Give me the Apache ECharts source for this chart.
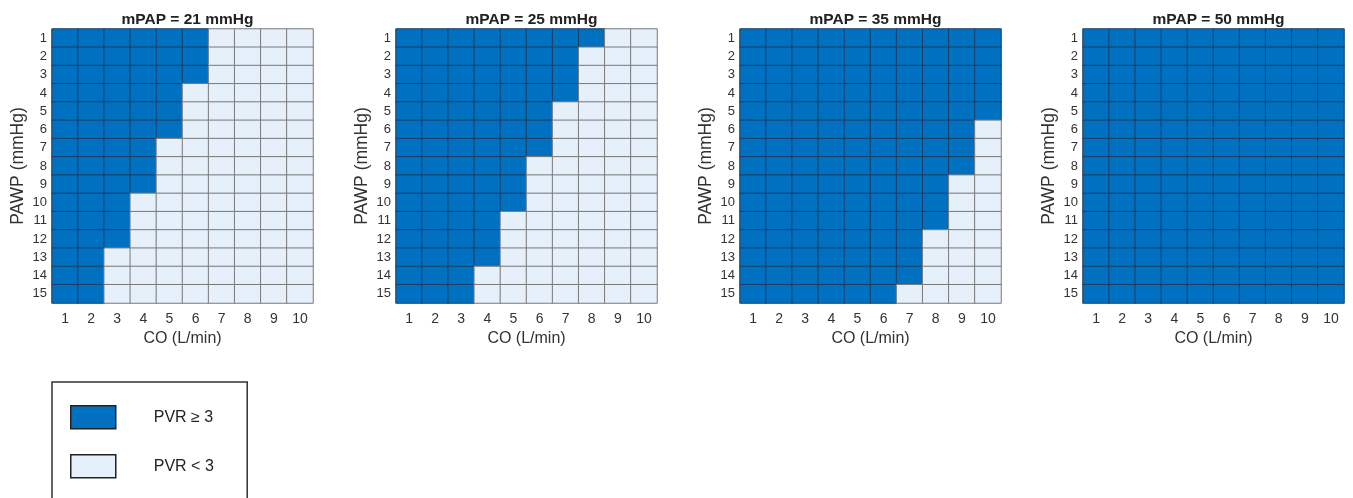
<!DOCTYPE html>
<html>
<head>
<meta charset="utf-8">
<script src="https://cdn.jsdelivr.net/npm/echarts@6/dist/echarts.min.js"></script>
<style>html,body{margin:0;padding:0;background:#fff;}#c{width:1353px;height:498px;}</style>
</head>
<body>
<div id="c"></div>
<script>
// Panel titles (mPAP values)
const panelTitles = ['mPAP = 21 mmHg', 'mPAP = 25 mmHg', 'mPAP = 35 mmHg', 'mPAP = 50 mmHg'];
// CO categories (x) and PAWP categories (y)
const coLabels = ['1','2','3','4','5','6','7','8','9','10'];
const pawpLabels = ['1','2','3','4','5','6','7','8','9','10','11','12','13','14','15'];
// Number of CO columns (from left) with PVR >= 3, for each PAWP row 1..15
const dark21 = [6,6,6,5,5,5,4,4,4,3,3,3,2,2,2];
const dark25 = [8,7,7,7,6,6,6,5,5,5,4,4,4,3,3];
const dark35 = [10,10,10,10,10,9,9,9,8,8,8,7,7,7,6];
const dark50 = [10,10,10,10,10,10,10,10,10,10,10,10,10,10,10];
const darkCounts = [dark21, dark25, dark35, dark50];
const legendNames = ['PVR \u2265 3', 'PVR < 3'];

const DARK = '#0070C0', LIGHT = '#E6F0FA';
const FONT = 'Liberation Sans, Arial, sans-serif';
const lefts = [52, 396, 740, 1083];
const W = 261, TOP = 29, H = 274;

const grids = [], xAxes = [], yAxes = [], titles = [], series = [];
darkCounts.forEach((counts, p) => {
  grids.push({left: lefts[p], top: TOP, width: W, height: H, containLabel: false});
  titles.push({
    text: panelTitles[p], left: lefts[p] + W / 2, top: 7, textAlign: 'center',
    textStyle: {fontFamily: FONT, fontSize: 15.5, fontWeight: 'bold', color: '#222'}
  });
  xAxes.push({
    type: 'category', gridIndex: p, data: coLabels,
    name: 'CO (L/min)', nameLocation: 'middle', nameGap: 28,
    nameTextStyle: {fontFamily: FONT, fontSize: 16, color: '#333'},
    axisLine: {show: false}, axisTick: {show: false}, splitLine: {show: false},
    axisLabel: {fontFamily: FONT, fontSize: 14, color: '#333', margin: 9}
  });
  yAxes.push({
    type: 'category', gridIndex: p, data: pawpLabels, inverse: true,
    name: 'PAWP (mmHg)', nameLocation: 'middle', nameGap: 25, nameRotate: 90,
    nameTextStyle: {fontFamily: FONT, fontSize: 17.5, color: '#333'},
    axisLine: {show: false}, axisTick: {show: false}, splitLine: {show: false},
    axisLabel: {fontFamily: FONT, fontSize: 13, color: '#333', margin: 5}
  });
  const darkData = [], lightData = [];
  counts.forEach((n, r) => {
    for (let c = 0; c < coLabels.length; c++) {
      if (c < n) darkData.push([c, r, 1]); else lightData.push([c, r, 0]);
    }
  });
  series.push({
    type: 'heatmap', name: legendNames[0], xAxisIndex: p, yAxisIndex: p, data: darkData,
    itemStyle: {color: DARK, borderColor: '#1d3f63', borderWidth: 1},
    emphasis: {disabled: true}, label: {show: false}
  });
  series.push({
    type: 'heatmap', name: legendNames[1], xAxisIndex: p, yAxisIndex: p, data: lightData,
    itemStyle: {color: LIGHT, borderColor: '#7a7a7a', borderWidth: 1},
    emphasis: {disabled: true}, label: {show: false}
  });
});

const legendText = {fontFamily: FONT, fontSize: 16, color: '#222', padding: [0, 0, 0, 33]};
const chart = echarts.init(document.getElementById('c'), null, {renderer: 'canvas'});
chart.setOption({
  animation: false,
  backgroundColor: '#fff',
  title: titles,
  grid: grids,
  xAxis: xAxes,
  yAxis: yAxes,
  tooltip: {show: false},
  legend: [
    {
      data: [{name: legendNames[0], itemStyle: {color: DARK, borderColor: '#222', borderWidth: 1.5}}],
      orient: 'vertical', left: 52, top: 382,
      icon: 'rect', itemWidth: 45, itemHeight: 23,
      padding: [23, 34, 76, 18],
      borderColor: '#333', borderWidth: 1.5,
      selectedMode: false, textStyle: legendText
    },
    {
      data: [{name: legendNames[1], itemStyle: {color: LIGHT, borderColor: '#222', borderWidth: 1.5}}],
      orient: 'vertical', left: 52, top: 431,
      icon: 'rect', itemWidth: 45, itemHeight: 23,
      padding: [23, 0, 0, 18],
      selectedMode: false, textStyle: legendText
    }
  ],
  series: series
});
</script>
</body>
</html>
